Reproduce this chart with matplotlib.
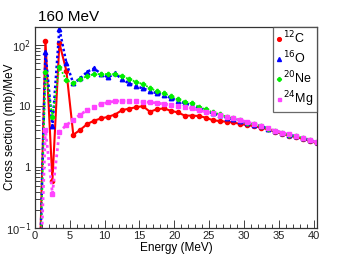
"""
Fragment production cross sections vs energy at 160 MeV.
Recreated as a ROOT-style log plot.
"""

import numpy as np
import matplotlib
import matplotlib.pyplot as plt
from matplotlib.ticker import FixedLocator, FixedFormatter, MultipleLocator, NullFormatter

matplotlib.use("Agg")
plt.rcParams["font.family"] = ["Liberation Sans", "DejaVu Sans"]

# Data, 1 MeV bins
energy = np.arange(0.5, 41.0, 1.0)

c12 = [0.004, 118, 0.60, 108, 38, 3.4, 4.1, 5.1, 5.8, 6.3, 6.7,
       7.3, 8.6, 9.1, 9.6, 10.0, 8.1, 8.9, 9.2, 8.4, 7.9,
       7.0, 7.0, 6.9, 6.5, 5.9, 5.7, 5.55, 5.4, 5.1, 4.9,
       4.7, 4.45, 4.15, 3.8, 3.55, 3.3, 3.1, 2.92, 2.68, 2.48]

o16 = [0.003, 76, 4.7, 185, 51, 23.6, 28.5, 36.6, 41.6, 33.5, 29.6,
       34.4, 27.5, 23.6, 21.3, 19.5, 17.8, 16.2, 15.2, 13.6, 12.2,
       11.1, 10.4, 9.3, 8.5, 7.6, 7.1, 6.5, 6.1, 5.7, 5.3,
       5.0, 4.7, 4.3, 3.9, 3.7, 3.4, 3.2, 3.02, 2.78, 2.55]

ne20 = [0.003, 36.6, 6.7, 44, 26.7, 23.6, 27.8, 31, 33.5, 33.5, 33.5,
        33.5, 31, 27.8, 25, 23, 19.8, 17.5, 16.2, 14.6, 12.9,
        11.8, 11.1, 9.8, 8.9, 7.9, 7.4, 6.7, 6.3, 5.9, 5.35,
        5.05, 4.7, 4.3, 3.9, 3.7, 3.4, 3.2, 3.04, 2.8, 2.55]

mg24 = [0.002, 4.1, 0.37, 3.8, 4.9, 5.9, 7.3, 8.6, 9.8, 10.8, 11.5,
        12.1, 12.1, 12.2, 12.1, 11.8, 11.5, 11.3, 10.8, 10.5, 10.0,
        9.8, 9.2, 8.6, 8.1, 7.6, 7.1, 6.7, 6.3, 5.9, 5.5,
        5.1, 4.75, 4.35, 3.95, 3.7, 3.45, 3.2, 3.04, 2.8, 2.55]

labels = [r"$^{12}$C", r"$^{16}$O", r"$^{20}$Ne", r"$^{24}$Mg"]

y_ticks = [0.1, 1, 10, 100]
y_tick_labels = [r"10$^{-1}$", "1", "10", r"10$^{2}$"]

fig = plt.figure(figsize=(3.53, 2.54), dpi=100)
ax = fig.add_axes([35 / 353, 1 - 228.3 / 254, 281.7 / 353, 201.6 / 254])

ax.plot(energy, c12, color="#ff0000", linestyle="-", linewidth=1.5,
        marker="o", markersize=3.0, label=labels[0])
ax.plot(energy, o16, color="#0000ff", linestyle=(0, (1, 1)), linewidth=1.8,
        marker="^", markersize=3.2, label=labels[1])
ax.plot(energy, ne20, color="#00ee00", linestyle=(0, (1, 1)), linewidth=1.3,
        marker="P", markersize=3.0, label=labels[2])
ax.plot(energy, mg24, color="#ff44ff", linestyle=(0, (1, 1.2)), linewidth=2.0,
        marker="s", markersize=2.4, label=labels[3])

ax.set_yscale("log")
ax.set_xlim(0, 40.45)
ax.set_ylim(0.1, 200)

# ROOT-like ticks: inside, bottom/left only
ax.xaxis.set_major_locator(MultipleLocator(5))
ax.xaxis.set_minor_locator(MultipleLocator(1))
ax.yaxis.set_major_locator(FixedLocator(y_ticks))
ax.yaxis.set_major_formatter(FixedFormatter(y_tick_labels))
minor_y = [m * d for d in (0.1, 1, 10, 100) for m in range(2, 10)]
ax.yaxis.set_minor_locator(FixedLocator(minor_y))
ax.yaxis.set_minor_formatter(NullFormatter())
ax.tick_params(which="both", direction="in", top=False, right=False,
               labelsize=8, colors="#222222", width=0.6)
ax.tick_params(which="major", length=7, pad=3)
ax.tick_params(which="minor", length=3.5)
ax.tick_params(axis="x", which="major", length=5.5, pad=2)
ax.tick_params(axis="x", which="minor", length=3)

for s in ax.spines.values():
    s.set_linewidth(0.9)
    s.set_color("#333333")

fig.text(176 / 353, 1 - 247.5 / 254, "Energy (MeV)", fontsize=8.5,
         ha="center", va="center")
fig.text(10 / 353, 1 - 127 / 254, "Cross section (mb)/MeV", fontsize=8.5,
         rotation=90, ha="center", va="center")

fig.text(38 / 353, 1 - 21 / 254, "160 MeV", fontsize=11, ha="left", va="baseline")

leg = ax.legend(loc="upper right", bbox_to_anchor=(1.0, 1.0),
                fontsize=9, frameon=True, fancybox=False,
                handlelength=0.4, handletextpad=0.15, borderpad=0.25,
                labelspacing=0.25, borderaxespad=0, markerscale=0.9)
leg.get_frame().set_edgecolor("#444444")
leg.get_frame().set_linewidth(0.9)
for line in leg.get_lines():
    line.set_linestyle("None")

fig.savefig("out.png", dpi=100)
